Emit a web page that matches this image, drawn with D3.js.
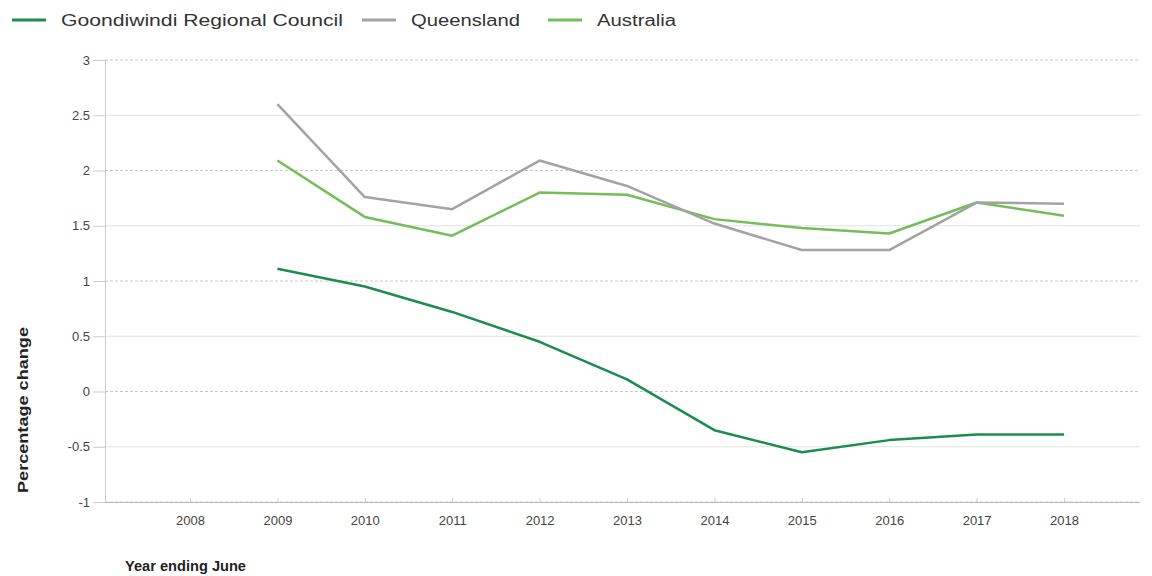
<!DOCTYPE html>
<html lang="en">
<head>
    <meta charset="UTF-8">
    <title>Percentage change - Goondiwindi</title>
    <script src="https://d3js.org/d3.v7.min.js"></script>
    <style>
        body { margin: 0; background: #fff; font-family: "Liberation Sans", Arial, sans-serif; }
        .tick text { fill: #444; font-size: 13px; }
        .legend text { fill: #333; font-size: 16px; }
        .axis-title { font-weight: bold; font-size: 15px; fill: #222; }
    </style>
</head>
<body>
    <svg width="1152" height="576"></svg>
    <script>
        const years = ["2008", "2009", "2010", "2011", "2012", "2013", "2014", "2015", "2016", "2017", "2018"];
        const yTicks = [-1, -0.5, 0, 0.5, 1, 1.5, 2, 2.5, 3];
        const goondiwindi = [null, 1.11, 0.95, 0.72, 0.45, 0.11, -0.35, -0.55, -0.44, -0.39, -0.39];
        const queensland = [null, 2.60, 1.76, 1.65, 2.09, 1.86, 1.52, 1.28, 1.28, 1.71, 1.70];
        const australia = [null, 2.09, 1.58, 1.41, 1.80, 1.78, 1.56, 1.48, 1.43, 1.71, 1.59];

        const series = [
            { name: "Goondiwindi Regional Council", values: goondiwindi, color: "#1d8c4e" },
            { name: "Queensland", values: queensland, color: "#a3a3a3" },
            { name: "Australia", values: australia, color: "#74bd5a" }
        ];

        const svg = d3.select("svg");
        const plot = { left: 105, right: 1140, top: 60, bottom: 502 };

        const x = d3.scalePoint().domain(years).range([190, 1064]);
        const y = d3.scaleLinear().domain([-1, 3]).range([plot.bottom, plot.top]);

        // grid
        svg.append("g").selectAll("line")
            .data(yTicks)
            .enter().append("line")
            .attr("x1", plot.left).attr("x2", plot.right)
            .attr("y1", d => y(d)).attr("y2", d => y(d))
            .attr("stroke", d => Number.isInteger(d) ? "#c8c8c8" : "#e2e2e2")
            .attr("stroke-dasharray", d => Number.isInteger(d) ? "3,2" : null)
            .attr("stroke-width", 1);

        // y axis
        const yAxis = svg.append("g")
            .attr("transform", `translate(${plot.left},0)`)
            .call(d3.axisLeft(y).tickValues(yTicks).tickSize(12).tickPadding(3).tickFormat(d => String(d)));
        yAxis.select(".domain").attr("stroke", "#ccc");
        yAxis.selectAll(".tick line").attr("stroke", "#ccc");

        // x axis
        const xAxis = svg.append("g")
            .attr("transform", `translate(0,${plot.bottom})`)
            .call(d3.axisBottom(x).tickSize(0).tickPadding(14));
        xAxis.select(".domain").attr("d", `M${plot.left},0.5H${plot.right}`).attr("stroke", "#bbb");
        xAxis.selectAll(".tick").append("line")
            .attr("y1", 0).attr("y2", -4).attr("stroke", "#ccc");

        // lines
        const line = d3.line()
            .defined(d => d.v !== null)
            .x(d => x(d.year))
            .y(d => y(d.v));

        svg.append("g").selectAll("path")
            .data(series.slice().reverse())
            .enter().append("path")
            .attr("fill", "none")
            .attr("stroke", d => d.color)
            .attr("stroke-width", 2.5)
            .attr("stroke-linejoin", "round")
            .attr("d", d => line(d.values.map((v, i) => ({ year: years[i], v: v }))));

        // legend
        const legendX = [12, 362, 548];
        const legendW = [282, 109, 79];
        const legend = svg.append("g").attr("class", "legend");
        series.forEach((s, i) => {
            const g = legend.append("g").attr("transform", `translate(${legendX[i]},20)`);
            g.append("line").attr("x1", 0).attr("x2", 34).attr("y1", 0).attr("y2", 0)
                .attr("stroke", s.color).attr("stroke-width", 3);
            g.append("text").attr("x", 49).attr("y", 6)
                .attr("textLength", legendW[i]).attr("lengthAdjust", "spacingAndGlyphs")
                .text(s.name);
        });

        // axis titles
        svg.append("text")
            .attr("class", "axis-title")
            .attr("transform", "translate(28,410) rotate(-90)")
            .attr("text-anchor", "middle")
            .attr("textLength", 166).attr("lengthAdjust", "spacingAndGlyphs")
            .text("Percentage change");

        svg.append("text")
            .attr("class", "axis-title")
            .attr("x", 125).attr("y", 571)
            .attr("textLength", 121).attr("lengthAdjust", "spacingAndGlyphs")
            .text("Year ending June");
    </script>
</body>
</html>
